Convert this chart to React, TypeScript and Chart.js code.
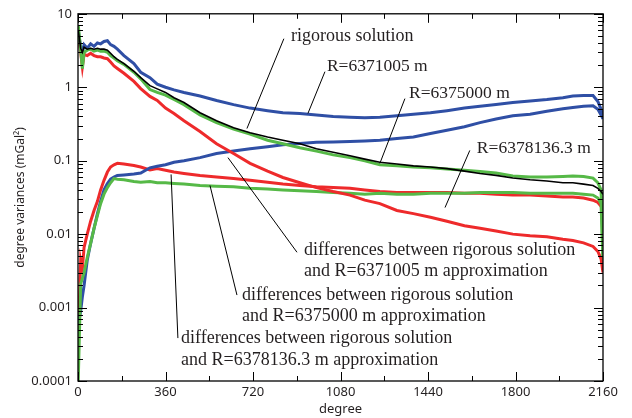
import React, { useEffect, useRef } from "react";
import { Chart, registerables } from "chart.js";

Chart.register(...registerables);

// ---------- data ----------
const degrees = [1, 11, 18, 25, 38, 52, 66, 80, 93, 107, 121, 134, 148, 162, 189, 230, 258, 296, 326, 360, 395, 436, 502, 570, 640, 708, 780, 843, 913, 981, 1050, 1119, 1180, 1242, 1312, 1380, 1450, 1518, 1590, 1654, 1720, 1789, 1860, 1929, 1995, 2036, 2080, 2119, 2139, 2152, 2160];

const rigorous = [6, 3.4, 3.0, 3.5, 3.3, 3.4, 3.3, 3.4, 3.3, 3.3, 3.2, 2.9, 2.6, 2.4, 2.1, 1.65, 1.35, 1.05, 0.95, 0.85, 0.72, 0.62, 0.45, 0.35, 0.28, 0.24, 0.21, 0.19, 0.17, 0.145, 0.13, 0.117, 0.105, 0.095, 0.09, 0.085, 0.082, 0.078, 0.072, 0.067, 0.063, 0.058, 0.055, 0.053, 0.05, 0.05, 0.048, 0.046, 0.042, 0.038, 0.035];

const r6371005 = [6, 3.5, 3.0, 3.8, 3.4, 3.9, 3.6, 4.0, 3.9, 4.2, 4.3, 3.8, 3.6, 3.3, 2.7, 2.1, 1.6, 1.35, 1.1, 1.0, 0.92, 0.85, 0.76, 0.66, 0.58, 0.52, 0.48, 0.45, 0.44, 0.42, 0.4, 0.39, 0.385, 0.39, 0.41, 0.43, 0.45, 0.48, 0.52, 0.55, 0.58, 0.62, 0.65, 0.68, 0.72, 0.76, 0.77, 0.77, 0.64, 0.5, 0.4];

const r6375000 = [7, 3.2, 1.8, 3.0, 3.2, 3.3, 3.1, 3.2, 3.1, 3.1, 3.0, 2.7, 2.5, 2.3, 2.05, 1.6, 1.3, 0.93, 0.85, 0.78, 0.68, 0.58, 0.42, 0.33, 0.27, 0.23, 0.19, 0.17, 0.15, 0.135, 0.12, 0.11, 0.1, 0.088, 0.085, 0.082, 0.08, 0.077, 0.074, 0.071, 0.068, 0.062, 0.06, 0.06, 0.061, 0.062, 0.061, 0.058, 0.05, 0.04, 0.005];

const r6378136 = [5, 3.0, 1.9, 2.8, 2.7, 2.9, 2.7, 2.6, 2.6, 2.5, 2.45, 2.2, 1.95, 1.8, 1.55, 1.2, 0.96, 0.75, 0.66, 0.52, 0.44, 0.35, 0.25, 0.17, 0.125, 0.092, 0.072, 0.059, 0.05, 0.043, 0.038, 0.034, 0.029, 0.026, 0.021, 0.019, 0.017, 0.015, 0.013, 0.012, 0.011, 0.01, 0.0095, 0.0092, 0.0085, 0.0082, 0.0076, 0.0068, 0.0058, 0.0046, 0.003];

const diff6371005 = [0.0006, 0.0009, 0.0014, 0.002, 0.0044, 0.0075, 0.012, 0.019, 0.028, 0.04, 0.049, 0.056, 0.06, 0.063, 0.064, 0.066, 0.068, 0.08, 0.084, 0.088, 0.095, 0.1, 0.11, 0.125, 0.135, 0.145, 0.155, 0.165, 0.172, 0.178, 0.18, 0.183, 0.186, 0.19, 0.2, 0.21, 0.235, 0.26, 0.29, 0.33, 0.37, 0.41, 0.43, 0.47, 0.51, 0.53, 0.55, 0.56, 0.5, 0.42, 0.37];

const diff6375000 = [0.0001, 0.0021, 0.0025, 0.003, 0.0048, 0.0075, 0.012, 0.018, 0.026, 0.035, 0.043, 0.05, 0.057, 0.056, 0.055, 0.052, 0.051, 0.052, 0.05, 0.05, 0.049, 0.048, 0.046, 0.045, 0.044, 0.042, 0.041, 0.04, 0.039, 0.038, 0.037, 0.036, 0.035, 0.036, 0.035, 0.035, 0.036, 0.036, 0.036, 0.037, 0.037, 0.037, 0.036, 0.036, 0.036, 0.036, 0.035, 0.034, 0.031, 0.026, 0.004];

const diff6378136 = [0.0004, 0.0044, 0.0034, 0.0066, 0.01, 0.015, 0.021, 0.028, 0.04, 0.054, 0.07, 0.082, 0.088, 0.092, 0.09, 0.086, 0.082, 0.075, 0.078, 0.074, 0.07, 0.067, 0.063, 0.06, 0.057, 0.054, 0.051, 0.048, 0.046, 0.044, 0.043, 0.042, 0.04, 0.038, 0.037, 0.037, 0.037, 0.037, 0.036, 0.036, 0.035, 0.034, 0.034, 0.033, 0.032, 0.032, 0.031, 0.029, 0.027, 0.024, 0.02];

// axes
const xTickValues = [0, 360, 720, 1080, 1440, 1800, 2160];
const xMinorTickValues = [180, 540, 900, 1260, 1620, 1980];
const yTickValues = [0.0001, 0.001, 0.01, 0.1, 1, 10];
const yTickLabels = ["0.0001", "0.001", "0.01", "0.1", "1", "10"];
const yMinorMultipliers = [2, 3, 4, 5, 6, 7, 8, 9];
const xTitle = "degree";
const yTitle = "degree variances (mGal\u00B2)";

// annotations: text lines, text anchor (degree, value), leader from / to (degree, value)
const annotationLines = [
  ["rigorous solution"],
  ["R=6371005 m"],
  ["R=6375000 m"],
  ["R=6378136.3 m"],
  ["differences between rigorous solution", "and R=6371005 m approximation"],
  ["differences between rigorous solution", "and R=6375000 m approximation"],
  ["differences between rigorous solution", "and R=6378136.3 m approximation"],
];
const annotationTextDeg = [876, 1024, 1362, 1641, 930, 675, 424];
const annotationTextVal = [5.02, 1.9, 0.82, 0.147, 0.00603, 0.00148, 0.000384];
const annotationLineStep = [0, 0, 0, 0, 21, 21, 22];
const leaderFromDeg = [847, 1016, 1345, 1612, 901, 654, 411];
const leaderFromVal = [4.58, 1.63, 0.7, 0.138, 0.00566, 0.00148, 0.000384];
const leaderToDeg = [695, 946, 1242, 1510, 617, 543, 383];
const leaderToVal = [0.274, 0.44, 0.092, 0.023, 0.11, 0.046, 0.065];

const BLUE = "#2f4fa5";
const GREEN = "#56b947";
const RED = "#ee2a2b";
const BLACK = "#000000";
const TEXT = "#231f20";

const SANS = '"Noto Sans", "Open Sans", sans-serif';
const SERIF = '"Liberation Serif", "DejaVu Serif", serif';

const framePlugin = {
  id: "frameAndNotes",
  afterDatasetsDraw(chart: any) {
    const { ctx, chartArea: a, scales } = chart;
    const xs = scales.x;
    const ys = scales.y;
    ctx.save();
    ctx.strokeStyle = "#000";
    ctx.lineWidth = 1.3;
    ctx.strokeRect(a.left, a.top, a.right - a.left, a.bottom - a.top);
    ctx.lineWidth = 1;
    ctx.beginPath();
    const tickX = (v: number, len: number) => {
      const px = Math.round(xs.getPixelForValue(v)) + 0.5;
      ctx.moveTo(px, a.bottom);
      ctx.lineTo(px, a.bottom - len);
      ctx.moveTo(px, a.top);
      ctx.lineTo(px, a.top + len);
    };
    xTickValues.forEach((v) => tickX(v, 9));
    xMinorTickValues.forEach((v) => tickX(v, 5));
    const tickY = (v: number, len: number) => {
      const py = Math.round(ys.getPixelForValue(v)) + 0.5;
      ctx.moveTo(a.left, py);
      ctx.lineTo(a.left + len, py);
      ctx.moveTo(a.right, py);
      ctx.lineTo(a.right - len, py);
    };
    yTickValues.forEach((v) => tickY(v, 9));
    yTickValues.slice(0, -1).forEach((base) => {
      yMinorMultipliers.forEach((m) => tickY(base * m, 5));
    });
    ctx.stroke();

    // annotations
    ctx.strokeStyle = "#000";
    ctx.lineWidth = 1;
    ctx.beginPath();
    for (let i = 0; i < annotationLines.length; i++) {
      ctx.moveTo(xs.getPixelForValue(leaderFromDeg[i]), ys.getPixelForValue(leaderFromVal[i]));
      ctx.lineTo(xs.getPixelForValue(leaderToDeg[i]), ys.getPixelForValue(leaderToVal[i]));
    }
    ctx.stroke();
    ctx.fillStyle = TEXT;
    ctx.textAlign = "left";
    ctx.textBaseline = "middle";
    for (let i = 0; i < annotationLines.length; i++) {
      ctx.font = i === 0 ? `18px ${SERIF}` : i < 4 ? `17.5px ${SERIF}` : `18px ${SERIF}`;
      const x0 = xs.getPixelForValue(annotationTextDeg[i]);
      const y0 = ys.getPixelForValue(annotationTextVal[i]);
      annotationLines[i].forEach((t, j) => {
        ctx.fillText(t, x0, y0 + j * annotationLineStep[i]);
      });
    }
    ctx.restore();
  },
};

export default function App() {
  const ref = useRef<HTMLCanvasElement | null>(null);
  useEffect(() => {
    if (!ref.current) return;
    const mk = (label: string, vals: number[], color: string, width: number) => ({
      label,
      data: degrees.map((d, i) => ({ x: d, y: vals[i] })),
      borderColor: color,
      backgroundColor: color,
      borderWidth: width,
      pointRadius: 0,
      tension: 0,
      fill: false,
    });
    const chart = new Chart(ref.current, {
      type: "line",
      data: {
        datasets: [
          mk("rigorous solution", rigorous, BLACK, 1.6),
          mk("R=6375000 m", r6375000, GREEN, 3),
          mk("R=6371005 m", r6371005, BLUE, 3),
          mk("R=6378136.3 m", r6378136, RED, 3),
          mk("diff R=6375000 m", diff6375000, GREEN, 3),
          mk("diff R=6371005 m", diff6371005, BLUE, 3),
          mk("diff R=6378136.3 m", diff6378136, RED, 3),
        ],
      },
      options: {
        responsive: false,
        animation: false,
        devicePixelRatio: 1,
        layout: { padding: { top: 13, right: 29, left: 0, bottom: 0 } },
        plugins: { legend: { display: false }, tooltip: { enabled: false } },
        scales: {
          x: {
            type: "linear",
            min: 0,
            max: 2160,
            grid: { display: false, drawTicks: false },
            border: { display: false },
            afterBuildTicks: (s: any) => {
              s.ticks = xTickValues.map((v) => ({ value: v }));
            },
            afterFit: (s: any) => {
              s.height = 37;
            },
            ticks: {
              color: TEXT,
              font: { family: SANS, size: 13 },
              padding: 3,
              maxRotation: 0,
              autoSkip: false,
              callback: (v: any) => String(v),
            },
            title: {
              display: true,
              text: xTitle,
              color: TEXT,
              font: { family: SANS, size: 13 },
              padding: { top: 0, bottom: 1 },
            },
          },
          y: {
            type: "logarithmic",
            min: 0.0001,
            max: 10,
            grid: { display: false, drawTicks: false },
            border: { display: false },
            afterBuildTicks: (s: any) => {
              s.ticks = yTickValues.map((v) => ({ value: v }));
            },
            afterFit: (s: any) => {
              s.width = 78;
            },
            ticks: {
              color: TEXT,
              font: { family: SANS, size: 13 },
              padding: 6,
              autoSkip: false,
              callback: (_v: any, i: number) => yTickLabels[i],
            },
            title: {
              display: true,
              text: yTitle,
              color: TEXT,
              font: { family: SANS, size: 12 },
              padding: { top: 13, bottom: 0 },
            },
          },
        },
      },
      plugins: [framePlugin],
    } as any);
    return () => chart.destroy();
  }, []);
  return (
    <div style={{ position: "absolute", left: 0, top: 0, width: 632, height: 418, background: "#fff" }}>
      <canvas ref={ref} width={632} height={418} style={{ display: "block" }} />
    </div>
  );
}
